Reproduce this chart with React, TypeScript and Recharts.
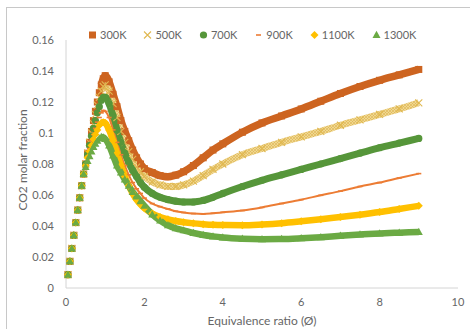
import React from 'react';
import { ComposedChart, Line, Scatter, XAxis, YAxis } from 'recharts';

// equivalence ratio (x) shared by every series
const PHI = [
  0.05, 0.1, 0.15, 0.2, 0.25, 0.3, 0.35, 0.4, 0.45, 0.5,
  0.55, 0.6, 0.65, 0.7, 0.75, 0.8, 0.85, 0.9, 0.95, 1.0,
  1.1, 1.2, 1.3, 1.4, 1.5, 1.6, 1.7, 1.8, 1.9, 2.0,
  2.2, 2.4, 2.6, 2.8, 3.0, 3.25, 3.5, 3.75, 4.0,
  4.5, 5.0, 5.5, 6.0, 6.5, 7.0, 7.5, 8.0, 8.5, 9.0,
];

const CO2_300K = [
  0.0086, 0.0172, 0.0255, 0.034, 0.0422, 0.0503, 0.0582, 0.066, 0.0735, 0.08,
  0.087, 0.094, 0.101, 0.108, 0.114, 0.12, 0.126, 0.131, 0.135, 0.137,
  0.133, 0.125, 0.117, 0.108, 0.101, 0.095, 0.089, 0.084, 0.08, 0.077,
  0.0745, 0.0725, 0.0718, 0.0728, 0.075, 0.079, 0.084, 0.089, 0.093,
  0.1005, 0.1065, 0.111, 0.1155, 0.1205, 0.1255, 0.13, 0.134, 0.1375, 0.141,
];
const CO2_500K = [
  0.0086, 0.0172, 0.0255, 0.034, 0.0422, 0.0503, 0.0582, 0.066, 0.0735, 0.08,
  0.087, 0.094, 0.1, 0.106, 0.112, 0.118, 0.123, 0.127, 0.13, 0.131,
  0.127, 0.119, 0.11, 0.101, 0.094, 0.088, 0.083, 0.078, 0.075, 0.072,
  0.0685, 0.0665, 0.0655, 0.0655, 0.0665, 0.069, 0.0725, 0.0765, 0.08,
  0.086, 0.09, 0.094, 0.0975, 0.101, 0.105, 0.1085, 0.112, 0.1155, 0.1195,
];
const CO2_700K = [
  0.0086, 0.0172, 0.0255, 0.034, 0.0422, 0.0503, 0.0582, 0.066, 0.0735, 0.08,
  0.086, 0.092, 0.098, 0.103, 0.108, 0.113, 0.117, 0.121, 0.123, 0.123,
  0.119, 0.111, 0.102, 0.094, 0.087, 0.081, 0.076, 0.072, 0.068, 0.065,
  0.061, 0.0585, 0.057, 0.056, 0.0555, 0.0555, 0.0565, 0.0585, 0.061,
  0.0655, 0.0695, 0.073, 0.0765, 0.08, 0.0835, 0.087, 0.0905, 0.0935, 0.0965,
];
const CO2_900K = [
  0.0086, 0.0172, 0.0255, 0.034, 0.0422, 0.0503, 0.0582, 0.066, 0.0735, 0.08,
  0.085, 0.09, 0.095, 0.099, 0.103, 0.107, 0.11, 0.113, 0.1145, 0.114,
  0.11, 0.102, 0.094, 0.086, 0.079, 0.073, 0.068, 0.064, 0.061, 0.058,
  0.0545, 0.0525, 0.051, 0.0495, 0.0487, 0.048, 0.0478, 0.0482, 0.0488,
  0.05, 0.052, 0.0545, 0.057, 0.0598, 0.0625, 0.0655, 0.068, 0.071, 0.0738,
];
const CO2_1100K = [
  0.0086, 0.0172, 0.0255, 0.034, 0.0422, 0.0503, 0.0582, 0.066, 0.0735, 0.079,
  0.084, 0.088, 0.092, 0.096, 0.099, 0.102, 0.105, 0.1065, 0.107, 0.1065,
  0.102, 0.095, 0.087, 0.079, 0.072, 0.066, 0.061, 0.057, 0.054, 0.0515,
  0.048, 0.0458, 0.0443, 0.0432, 0.0424, 0.0417, 0.0412, 0.0408, 0.0406,
  0.0405, 0.041, 0.0418, 0.043, 0.0443, 0.0458, 0.0473, 0.049, 0.051, 0.053,
];
const CO2_1300K = [
  0.0086, 0.0172, 0.0255, 0.034, 0.0422, 0.0503, 0.0582, 0.066, 0.0735, 0.078,
  0.082, 0.085, 0.088, 0.091, 0.093, 0.095, 0.0965, 0.0974, 0.0972, 0.0962,
  0.092, 0.0855, 0.079, 0.0745, 0.07, 0.066, 0.062, 0.059, 0.056, 0.053,
  0.0475, 0.0435, 0.0405, 0.0385, 0.0372, 0.0355, 0.0342, 0.0333, 0.0326,
  0.0318, 0.0315, 0.0316, 0.0321, 0.0328, 0.0337, 0.0345, 0.0352, 0.0357, 0.0362,
];

const X_TICKS = [0, 2, 4, 6, 8, 10];
const Y_TICKS = [0, 0.02, 0.04, 0.06, 0.08, 0.1, 0.12, 0.14, 0.16];

const SERIES = [
  { name: '300K', values: CO2_300K, color: '#CD6420', band: '#CD6420', width: 7.5, kind: 'square' },
  { name: '500K', values: CO2_500K, color: '#E0B850', band: 'url(#hatch500)', width: 7, kind: 'x' },
  { name: '700K', values: CO2_700K, color: '#56963A', band: '#56963A', width: 7, kind: 'circle' },
  { name: '900K', values: CO2_900K, color: '#EC7C34', band: '#EC7C34', width: 2, kind: 'dash' },
  { name: '1100K', values: CO2_1100K, color: '#FFC000', band: '#FFC000', width: 6.5, kind: 'diamond' },
  { name: '1300K', values: CO2_1300K, color: '#6BAA44', band: '#6BAA44', width: 6.5, kind: 'triangle' },
];

const FONT = 'Lato, "Open Sans", sans-serif';
const TEXT = '#666666';

function Marker({ kind, cx, cy, color }: { kind: string; cx: number; cy: number; color: string }) {
  if (cx == null || cy == null) return null;
  switch (kind) {
    case 'square':
      return <rect x={cx - 3.5} y={cy - 3.5} width={7} height={7} fill={color} />;
    case 'x':
      return (
        <path
          d={`M${cx - 3.5},${cy - 3.5}L${cx + 3.5},${cy + 3.5}M${cx + 3.5},${cy - 3.5}L${cx - 3.5},${cy + 3.5}`}
          stroke={color}
          strokeWidth={1.1}
          fill="none"
        />
      );
    case 'circle':
      return <circle cx={cx} cy={cy} r={3.6} fill={color} />;
    case 'dash':
      return <line x1={cx - 2.5} x2={cx + 2.5} y1={cy} y2={cy} stroke={color} strokeWidth={1.6} />;
    case 'diamond':
      return <path d={`M${cx},${cy - 4}L${cx + 4},${cy}L${cx},${cy + 4}L${cx - 4},${cy}Z`} fill={color} />;
    default:
      return <path d={`M${cx},${cy - 4.2}L${cx + 4},${cy + 3}L${cx - 4},${cy + 3}Z`} fill={color} />;
  }
}

function LegendRow() {
  return (
    <div
      style={{
        position: 'absolute',
        left: 88,
        top: 28,
        display: 'flex',
        gap: 17,
        fontFamily: FONT,
        fontSize: 11,
        color: TEXT,
        lineHeight: '14px',
      }}
    >
      {SERIES.map((s) => (
        <div key={s.name} style={{ display: 'flex', alignItems: 'center' }}>
          <svg width={9} height={10} style={{ marginRight: 3 }}>
            <Marker kind={s.kind} cx={4.5} cy={5} color={s.color} />
          </svg>
          <span>{s.name}</span>
        </div>
      ))}
    </div>
  );
}

export default function App() {
  const series = SERIES.map((s) => ({
    ...s,
    rows: PHI.map((phi, i) => ({ phi, y: s.values[i] })),
  }));

  return (
    <div style={{ position: 'fixed', left: 0, top: 0, width: 470, height: 329, overflow: 'hidden', background: '#fff' }}>
      <div
        style={{
          position: 'absolute',
          left: 6,
          top: 7,
          width: 520,
          height: 400,
          border: '1px solid #c8c8c8',
          boxSizing: 'border-box',
        }}
      />
      <div style={{ position: 'absolute', left: 0, top: 0 }}>
        <ComposedChart width={470} height={329} margin={{ top: 40, right: 12, bottom: 11, left: 6 }}>
          <defs>
            <pattern id="hatch500" patternUnits="userSpaceOnUse" width={3} height={3}>
              <rect width={3} height={3} fill="#F0D890" />
              <path d="M0,0L3,3M3,0L0,3" stroke="#DDB452" strokeWidth={0.6} />
            </pattern>
          </defs>
          <XAxis
            type="number"
            dataKey="phi"
            domain={[0, 10]}
            ticks={X_TICKS}
            height={30}
            tickLine={false}
            tickSize={0}
            tickMargin={10}
            axisLine={{ stroke: '#d4d4d4' }}
            tick={{ fill: TEXT, fontSize: 11, fontFamily: FONT }}
            label={{
              content: ({ viewBox }: any) => (
                <text
                  x={viewBox.x + viewBox.width / 2}
                  y={viewBox.y + 32}
                  textAnchor="middle"
                  dominantBaseline="central"
                  fill={TEXT}
                  fontSize={12}
                  fontFamily={FONT}
                >
                  Equivalence ratio (Ø)
                </text>
              ),
            }}
          />
          <YAxis
            type="number"
            dataKey="y"
            domain={[0, 0.16]}
            ticks={Y_TICKS}
            width={60}
            tickLine={false}
            tickSize={0}
            tickMargin={12}
            axisLine={{ stroke: '#d4d4d4' }}
            tick={{ fill: TEXT, fontSize: 11, fontFamily: FONT }}
            label={{
              content: ({ viewBox }: any) => {
                const x = viewBox.x + 16;
                const y = viewBox.y + viewBox.height / 2 - 4;
                return (
                  <text
                    x={x}
                    y={y}
                    transform={`rotate(-90, ${x}, ${y})`}
                    textAnchor="middle"
                    dominantBaseline="central"
                    fill={TEXT}
                    fontSize={12}
                    fontFamily={FONT}
                  >
                    CO2 molar fraction
                  </text>
                );
              },
            }}
          />
          {series.flatMap((s) => [
            <Line
              key={`${s.name}-band`}
              data={s.rows.filter((r) => r.phi >= 0.9)}
              dataKey="y"
              type="monotone"
              stroke={s.band}
              strokeWidth={s.width}
              strokeLinecap="butt"
              dot={false}
              activeDot={false}
              isAnimationActive={false}
            />,
            <Scatter
              key={`${s.name}-pts`}
              data={s.rows}
              dataKey="y"
              isAnimationActive={false}
              shape={(p: any) => <Marker kind={s.kind} cx={p.cx} cy={p.cy} color={s.color} />}
            />,
          ])}
        </ComposedChart>
      </div>
      <LegendRow />
    </div>
  );
}
